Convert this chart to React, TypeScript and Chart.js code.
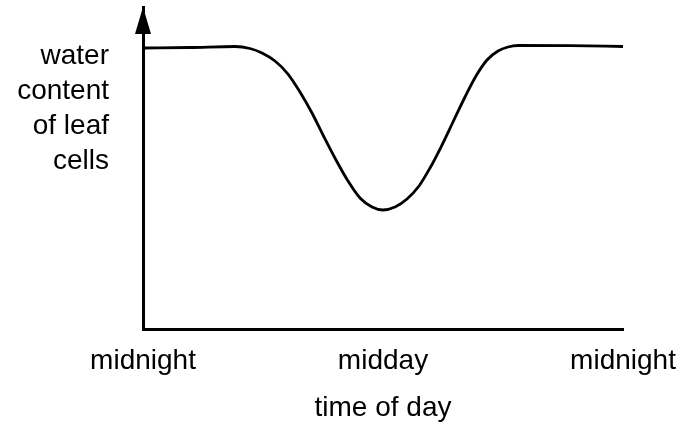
import React, { useEffect, useRef } from "react";
import { Chart, registerables } from "chart.js";

Chart.register(...registerables);

// hours of day (0 = midnight, 12 = midday, 24 = midnight)
const hours = [0, 2.35, 4.6, 5.35, 5.95, 6.6, 7.25, 7.85, 8.45, 9.05, 9.65, 10.25, 10.85, 11.45, 12, 12.6, 13.2, 13.8, 14.35, 14.9, 15.5, 16.1, 16.65, 17.2, 17.75, 18.25, 18.75, 21.35, 24];
// relative water content of leaf cells (0-100)
const waterContent = [87.27, 87.42, 87.73, 87.11, 85.71, 83.23, 79.19, 73.6, 67.08, 59.63, 52.48, 45.96, 40.68, 37.89, 36.96, 37.89, 40.37, 44.41, 50.0, 56.52, 64.29, 72.05, 78.57, 83.54, 86.34, 87.58, 88.04, 87.98, 87.73];

const xTickValues = [0, 12, 24];
const xTickLabels = ["midnight", "midday", "midnight"];
const yLabelValue = 68.5;
const yLabelLines = ["water", "content", "of leaf", "cells"];
const xTitle = "time of day";

const FONT = "'Liberation Sans', Arial, Helvetica, sans-serif";

const arrowPlugin = {
  id: "arrowHead",
  afterDraw(chart: any) {
    const { ctx, chartArea } = chart;
    const x = chartArea.left;
    const tip = chartArea.top;
    ctx.save();
    ctx.fillStyle = "#000";
    ctx.beginPath();
    ctx.moveTo(x, tip);
    ctx.lineTo(x - 8, tip + 27);
    ctx.lineTo(x + 8, tip + 27);
    ctx.closePath();
    ctx.fill();
    ctx.restore();
  },
};

export default function App() {
  const ref = useRef<HTMLCanvasElement | null>(null);

  useEffect(() => {
    if (!ref.current) return;
    const chart = new Chart(ref.current, {
      type: "line",
      data: {
        datasets: [
          {
            data: hours.map((h, i) => ({ x: h, y: waterContent[i] })),
            borderColor: "#000",
            borderWidth: 2.8,
            pointRadius: 0,
            cubicInterpolationMode: "monotone",
            fill: false,
          },
        ],
      },
      options: {
        animation: false,
        responsive: false,
        maintainAspectRatio: false,
        layout: { padding: { top: 7, right: 60, left: 0, bottom: 0 } },
        plugins: {
          legend: { display: false },
          tooltip: { enabled: false },
        },
        scales: {
          x: {
            type: "linear",
            min: 0,
            max: 24,
            grid: { display: false, drawTicks: false },
            border: { display: true, color: "#000", width: 3 },
            afterBuildTicks: (scale: any) => {
              scale.ticks = xTickValues.map((v) => ({ value: v }));
            },
            afterFit: (scale: any) => {
              scale.height = 99;
              scale.paddingLeft = 0;
              scale.paddingRight = 0;
            },
            ticks: {
              autoSkip: false,
              maxRotation: 0,
              padding: 15,
              color: "#000",
              font: { family: FONT, size: 28 },
              callback: (v: any) => {
                const i = xTickValues.indexOf(Number(v));
                return i >= 0 ? xTickLabels[i] : "";
              },
            },
            title: {
              display: true,
              text: xTitle,
              color: "#000",
              font: { family: FONT, size: 28 },
              padding: { top: 0, bottom: 3 },
            },
          },
          y: {
            min: 0,
            max: 100,
            grid: { display: false, drawTicks: false },
            border: { display: true, color: "#000", width: 3 },
            afterBuildTicks: (scale: any) => {
              scale.ticks = [{ value: yLabelValue }];
            },
            afterFit: (scale: any) => {
              scale.width = 143;
              scale.paddingTop = 0;
              scale.paddingBottom = 0;
            },
            ticks: {
              autoSkip: false,
              padding: 34,
              color: "#000",
              font: { family: FONT, size: 28, lineHeight: 1.25 },
              callback: () => yLabelLines,
            },
          },
        },
      },
      plugins: [arrowPlugin],
    });
    return () => chart.destroy();
  }, []);

  return (
    <div style={{ position: "fixed", left: 0, top: 0, width: 683, height: 428, background: "#fff" }}>
      <canvas ref={ref} width={683} height={428} style={{ width: 683, height: 428, display: "block" }} />
    </div>
  );
}
